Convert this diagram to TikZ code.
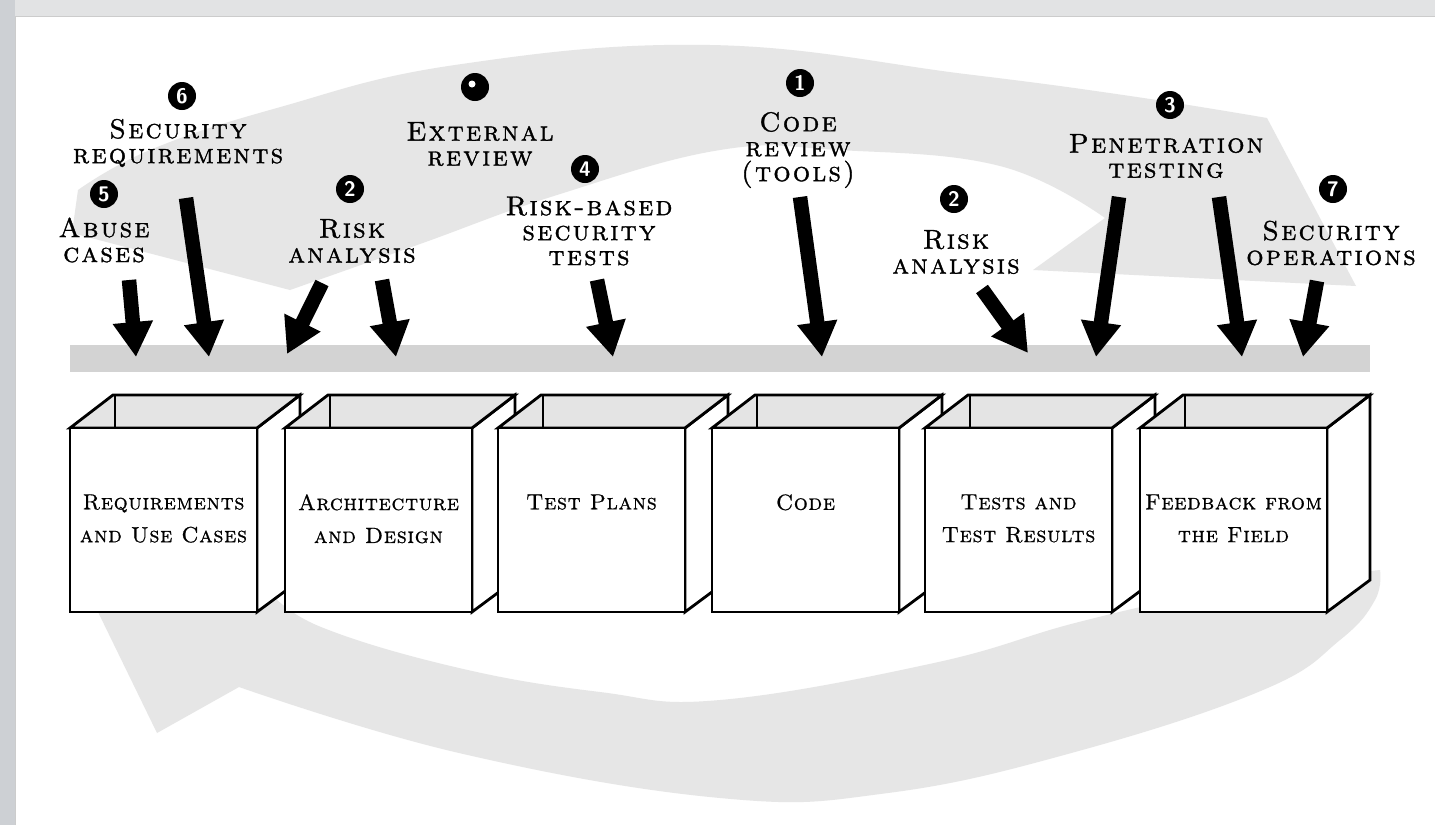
\documentclass[tikz,border=0pt]{standalone}
\usepackage{fontspec}
\usepackage{xcolor}
\usepackage{tikz}
\usetikzlibrary{arrows.meta}
\newfontfamily\tpfont{lmromancaps10-regular.otf}[LetterSpace=8, FakeBold=1.2]
\newfontfamily\boxfont{lmromancaps10-regular.otf}[LetterSpace=3, FakeBold=0.8]
\definecolor{cycgray}{HTML}{E6E6E6}
\definecolor{bargray}{HTML}{D3D3D3}
\definecolor{topgray}{HTML}{E4E4E4}
\definecolor{frametop}{HTML}{E2E3E4}
\definecolor{frameside}{HTML}{CDD0D4}

\begin{document}
\begin{tikzpicture}[
    x=0.2mm, y=-0.2mm,
    lbl/.style={align=center, inner sep=0pt, font=\tpfont\fontsize{15.5}{14.2}\selectfont},
    boxtxt/.style={align=center, inner sep=0pt, anchor=north,
    font=\boxfont\fontsize{12.5}{18.7}\selectfont},
    badge/.style={circle, fill=black, text=white, inner sep=0pt, minimum size=5.6mm,
    font=\sffamily\bfseries\fontsize{12}{12}\selectfont},
    bigarr/.style={line width=2.9mm, -{Triangle[length=7mm, width=7.6mm]}},
    face/.style={draw, line width=1.6pt, line join=miter}
]
\useasboundingbox (0,0) rectangle (1435,825);
\fill[white] (0,0) rectangle (1435,825);
\fill[frametop] (0,0) rectangle (1435,16);
\fill[frameside] (0,0) rectangle (15,825);
\draw[gray!40, line width=0.3pt] (15,825) |- (1435,16);

\fill[cycgray] plot[smooth, tension=0.7] coordinates {(78,190) (150,150) (277,108)
    (455,65) (710,45) (965,74) (1130,96) (1267,118)}
    -- (1356,286) -- (1033,270) -- (1105,218)
    -- plot[smooth, tension=0.7] coordinates {(1105,218) (1000,166) (838,150)
    (720,150) (557,195) (420,244) (290,290)}
    -- (72,233) -- cycle;
\fill[cycgray] (157,733) -- (80,575) -- (270,592)
    -- plot[smooth, tension=0.7] coordinates {(270,592) (321,627) (459,668)
    (600,692) (720,700) (934,663) (1075,623) (1200,595) (1330,575)}
    -- (1380,570)
    -- plot[smooth, tension=0.7] coordinates {(1380,570) (1375,600) (1340,640)
    (1263,690) (1075,752) (888,793) (720,798) (459,753) (239,687)}
    -- cycle;

\fill[bargray] (70,345) rectangle (1370,372);

\foreach \x/\nm/\txt in {70/req/{Requirements\\and Use Cases},
    285/arch/{Architecture\\and Design}, 498/plan/{Test Plans},
    712/code/{Code}, 925/test/{Tests and\\Test Results},
    1140/feed/{Feedback from\\the Field}} {
  \filldraw[face, fill=white] (\x+187,428) -- (\x+230,395) -- (\x+230,580)
      -- (\x+187,612) -- cycle;
  \filldraw[face, fill=topgray] (\x,428) -- (\x+43,395) -- (\x+230,395)
      -- (\x+187,428) -- cycle;
  \draw[face] (\x+45,395) -- (\x+45,428);
  \filldraw[face, fill=white] (\x,428) rectangle (\x+187,612);
  \node[boxtxt] (b-\nm) at (\x+93.5,494) {\txt};
}

\node[lbl] (l-secreq) at (178,143) {Security\\requirements};
\node[badge] (n-secreq) at (182,96) {6};
\node[lbl] (l-abuse) at (104,240) {Abuse\\cases};
\node[badge] (n-abuse) at (104,194) {5};
\node[lbl] (l-riskA) at (352,241) {Risk\\analysis};
\node[badge] (n-riskA) at (350,189) {2};
\node[lbl] (l-ext) at (480,144) {External\\review};
\node[badge] (n-ext) at (475,87) {};
\fill[white] ([shift={(-3,-3)}]n-ext.center) circle (3.5);
\node[lbl] (l-rbst) at (589,231) {Risk-based\\security\\tests};
\node[badge] (n-rbst) at (585,169) {4};
\node[lbl] (l-code) at (798,150) {Code\\review\\(tools)};
\node[badge] (n-code) at (800,83) {1};
\node[lbl] (l-riskB) at (956,252) {Risk\\analysis};
\node[badge] (n-riskB) at (954,199) {2};
\node[lbl] (l-pen) at (1166,156) {Penetration\\testing};
\node[badge] (n-pen) at (1170,105) {3};
\node[lbl] (l-secops) at (1331,243) {Security\\operations};
\node[badge] (n-secops) at (1333,189) {7};

\coordinate (abuse-s) at (129,280);   \coordinate (abuse-e) at (136,357);
\coordinate (secreq-s) at (186,198);  \coordinate (secreq-e) at (209,357);
\coordinate (riskA1-s) at (322,283);  \coordinate (riskA1-e) at (287,354);
\coordinate (riskA2-s) at (382,280);  \coordinate (riskA2-e) at (396,357);
\coordinate (rbst-s) at (597,280);    \coordinate (rbst-e) at (613,357);
\coordinate (code-s) at (800,197);    \coordinate (code-e) at (822,357);
\coordinate (riskB-s) at (982,289);   \coordinate (riskB-e) at (1028,353);
\coordinate (pen1-s) at (1119,197);   \coordinate (pen1-e) at (1096,357);
\coordinate (pen2-s) at (1219,197);   \coordinate (pen2-e) at (1242,357);
\coordinate (secops-s) at (1317,281); \coordinate (secops-e) at (1303,357);
\foreach \a in {abuse, secreq, riskA1, riskA2, rbst, code, riskB, pen1, pen2, secops}
  \draw[bigarr] (\a-s) -- (\a-e);
\end{tikzpicture}
\end{document}
